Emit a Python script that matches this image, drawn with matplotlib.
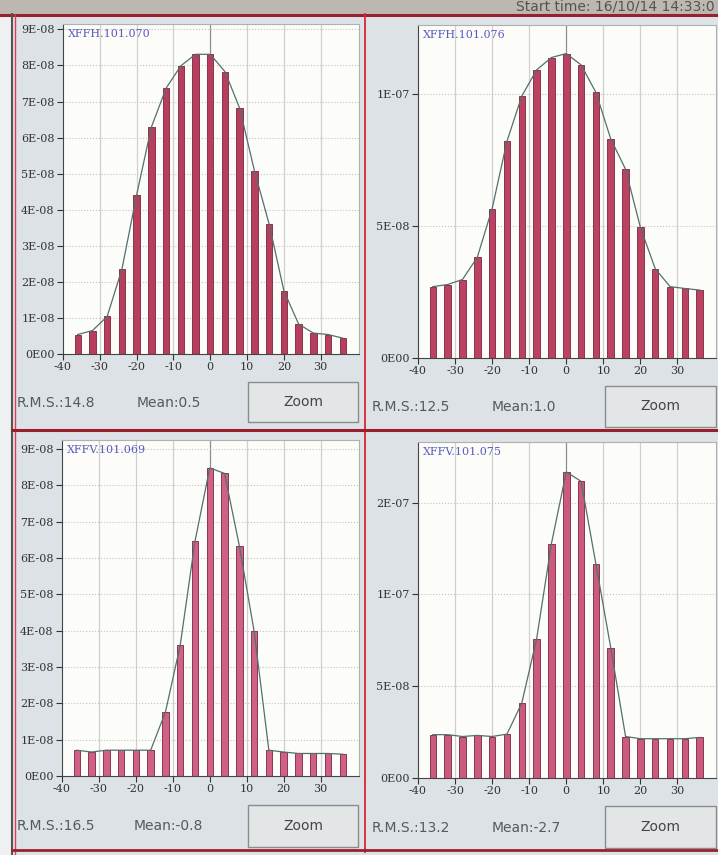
import numpy as np
import matplotlib
matplotlib.use("Agg")
import matplotlib.pyplot as plt
from matplotlib.lines import Line2D
from matplotlib.patches import Rectangle

W, H = 718, 855

# bin centres shared by all four histograms
bin_centres = [-36, -32, -28, -24, -20, -16, -12, -8, -4, 0,
               4, 8, 12, 16, 20, 24, 28, 32, 36]
x_ticks = [-40, -30, -20, -10, 0, 10, 20, 30]

# values, in units of 1E-08
xffh_070 = [0.54, 0.65, 1.04, 2.35, 4.41, 6.29, 7.37, 7.99, 8.31, 8.31,
            7.83, 6.81, 5.08, 3.60, 1.75, 0.83, 0.58, 0.54, 0.44]
xffh_076 = [2.70, 2.78, 2.97, 3.81, 5.65, 8.20, 9.91, 10.9, 11.37, 11.52,
            11.09, 10.05, 8.29, 7.14, 4.94, 3.38, 2.70, 2.63, 2.57]
xffv_069 = [0.71, 0.66, 0.71, 0.71, 0.71, 0.71, 1.76, 3.60, 6.46, 8.48,
            8.33, 6.34, 3.99, 0.71, 0.66, 0.62, 0.62, 0.62, 0.60]
xffv_075 = [2.36, 2.36, 2.26, 2.32, 2.26, 2.39, 4.08, 7.57, 12.77, 16.67,
            16.16, 11.65, 7.10, 2.26, 2.14, 2.14, 2.14, 2.14, 2.21]

names = ["XFFH.101.070", "XFFH.101.076", "XFFV.101.069", "XFFV.101.075"]
rms = ["14.8", "12.5", "16.5", "13.2"]
means = ["0.5", "1.0", "-0.8", "-2.7"]

fine_ticks = [0, 1e-8, 2e-8, 3e-8, 4e-8, 5e-8, 6e-8, 7e-8, 8e-8, 9e-8]
fine_labels = ["0E00", "1E-08", "2E-08", "3E-08", "4E-08", "5E-08",
               "6E-08", "7E-08", "8E-08", "9E-08"]
coarse_ticks = [0, 5e-8, 1e-7, 1.5e-7]
coarse_labels = ["0E00", "5E-08", "1E-07", "2E-07"]

panels = [
    # values, yticks, ylabels, ymax, (l, t, r, b) in px, bar colour
    (xffh_070, fine_ticks, fine_labels, 9.15e-8, (63, 24, 359, 354), "#b83e5e"),
    (xffh_076, coarse_ticks[:3], coarse_labels[:3], 1.26e-7, (418, 25, 716, 358), "#bc4262"),
    (xffv_069, fine_ticks, fine_labels, 9.25e-8, (62, 440, 359, 776), "#cf6186"),
    (xffv_075, coarse_ticks, coarse_labels, 1.83e-7, (418, 442, 716, 778), "#ca5a7e"),
]
# where the text row and the Zoom button sit in each panel (px)
info_rows = [
    (17, 137, 403, (248, 382, 358, 422)),
    (372, 492, 407, (605, 386, 716, 427)),
    (17, 134, 826, (248, 805, 358, 847)),
    (372, 492, 828, (605, 806, 716, 848)),
]

fig = plt.figure(figsize=(W / 100, H / 100), dpi=100, facecolor="#dde2e7")


def fx(x):
    return x / W


def fy(y):
    return 1 - y / H


# screen furniture
fig.add_artist(Rectangle((0, fy(14)), 1, 14 / H, transform=fig.transFigure,
                         fc="#bcb8b1", ec="none"))
fig.add_artist(Rectangle((0, 0), fx(11), fy(14), transform=fig.transFigure,
                         fc="#eef0f1", ec="none"))
fig.text(fx(715), fy(11), "Start time: 16/10/14 14:33:0", fontsize=10,
         color="#55534f", va="baseline", ha="right")
for (x0, y0, x1, y1, c, lw) in [
    (0, 15, W, 15, "#9a2030", 2.2),
    (12, 14, 12, H, "#555", 1.5),
    (15, 14, 15, H, "#d84050", 1.0),
    (365, 14, 365, 852, "#d82535", 1.3),
    (12, 430, W, 430, "#9a1f2e", 2.2),
    (12, 850, W, 850, "#9a2030", 2.0),
]:
    fig.add_artist(Line2D([fx(x0), fx(x1)], [fy(y0), fy(y1)], transform=fig.transFigure,
                          color=c, lw=lw))

for i, (vals, yt, yl, ymax, (l, t, r, b), col) in enumerate(panels):
    ax = fig.add_axes([fx(l), fy(b), (r - l) / W, (b - t) / H])
    ax.set_facecolor("#fcfcf8")
    y = np.array(vals) * 1e-8

    for xt in x_ticks[1:]:
        ax.axvline(xt, color="#8d8d8d" if xt == 0 else "#cfcfcf", lw=0.9, zorder=0)
    for v in yt[1:]:
        ax.axhline(v, color="#c4c4c4", lw=0.8, ls=":", zorder=0)

    ax.bar(bin_centres, y, width=1.75, color=col, edgecolor="#7a2340", lw=0.6, zorder=2)
    ax.plot(bin_centres, y, color="#52706f", lw=0.9, zorder=3)

    ax.set_xlim(-40, 40.4)
    ax.set_ylim(0, ymax)
    ax.set_xticks(x_ticks)
    ax.set_xticklabels([str(v) for v in x_ticks])
    ax.set_yticks(yt)
    ax.set_yticklabels(yl)
    ax.tick_params(length=4, width=0.8, color="#333", labelsize=8,
                   labelcolor="#333", pad=2)
    for lab in ax.get_xticklabels() + ax.get_yticklabels():
        lab.set_family("DejaVu Serif")
    for side in ["top", "right"]:
        ax.spines[side].set_color("#b0b0b0")
    for side in ["left", "bottom"]:
        ax.spines[side].set_color("#444")
    ax.text(0.015, 0.985, names[i], transform=ax.transAxes, ha="left", va="top",
            family="DejaVu Serif", fontsize=8, color="#5a5ac0")

    rx, mx, ty, (bl, bt, br, bb) = info_rows[i]
    fig.text(fx(rx), fy(ty), "R.M.S.:" + rms[i], fontsize=10, color="#555a60", va="center")
    fig.text(fx(mx), fy(ty), "Mean:" + means[i], fontsize=10, color="#555a60", va="center")
    fig.add_artist(Rectangle((fx(bl), fy(bb)), (br - bl) / W, (bb - bt) / H,
                             transform=fig.transFigure, fc="#e3e6e7", ec="#8c8c8c", lw=1))
    fig.text(fx((bl + br) / 2), fy((bt + bb) / 2), "Zoom", fontsize=10, color="#444",
             ha="center", va="center")

fig.savefig("out.png", dpi=100, facecolor=fig.get_facecolor())
